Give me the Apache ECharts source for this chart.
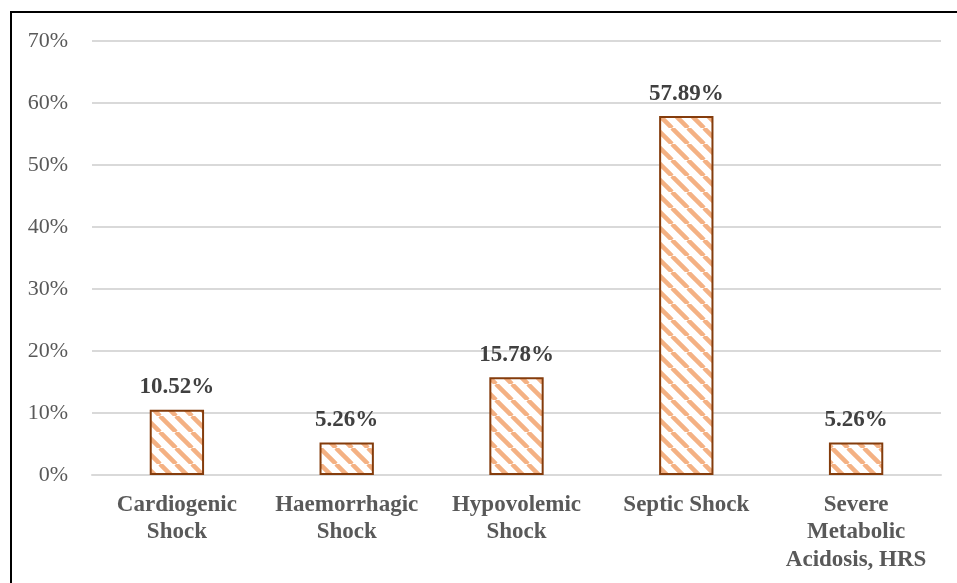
<!DOCTYPE html>
<html>
<head>
<meta charset="utf-8">
<script src="https://cdn.jsdelivr.net/npm/echarts@6/dist/echarts.min.js"></script>
<style>
  html, body { margin: 0; padding: 0; background: #fff; }
  #chart { width: 957px; height: 583px; }
</style>
</head>
<body>
<div id="chart"></div>
<script>
// Shock types and share of cases (%)
const categories = [
  'Cardiogenic\nShock',
  'Haemorrhagic\nShock',
  'Hypovolemic\nShock',
  'Septic Shock',
  'Severe\nMetabolic\nAcidosis, HRS'
];
const shares = [10.52, 5.26, 15.78, 57.89, 5.26];
const yTicks = { min: 0, max: 70, interval: 10 };

// Diagonal hatch fill: light orange stripes running top-left to bottom-right
function makeHatch() {
  const s = 16;
  const c = document.createElement('canvas');
  c.width = s; c.height = s;
  const g = c.getContext('2d');
  g.fillStyle = '#ffffff';
  g.fillRect(0, 0, s, s);
  g.strokeStyle = '#F4B183';
  g.lineWidth = 4.5;
  for (const o of [-s, 0, s]) {
    g.beginPath();
    g.moveTo(o, 0);
    g.lineTo(o + s, s);
    g.stroke();
  }
  return c;
}

const chart = echarts.init(document.getElementById('chart'), null, { renderer: 'canvas' });
const serif = '"Liberation Serif", "Times New Roman", serif';

chart.setOption({
  animation: false,
  backgroundColor: '#ffffff',
  graphic: [{
    type: 'rect',
    shape: { x: 11, y: 12, width: 1200, height: 1200 },
    style: { fill: 'none', stroke: '#000000', lineWidth: 2 },
    silent: true
  }],
  grid: { left: 92, right: 16, top: 41, bottom: 108, containLabel: false },
  xAxis: {
    type: 'category',
    data: categories,
    axisLine: { show: true, lineStyle: { color: '#D9D9D9', width: 2 } },
    axisTick: { show: false },
    axisLabel: {
      interval: 0,
      margin: 16,
      color: '#595959',
      fontFamily: serif,
      fontWeight: 'bold',
      fontSize: 23,
      lineHeight: 27.5
    }
  },
  yAxis: {
    type: 'value',
    min: yTicks.min,
    max: yTicks.max,
    interval: yTicks.interval,
    axisLine: { show: false },
    axisTick: { show: false },
    splitLine: { lineStyle: { color: '#D9D9D9', width: 2 } },
    axisLabel: {
      margin: 24,
      color: '#595959',
      fontFamily: serif,
      fontSize: 22,
      formatter: v => v + '%'
    }
  },
  series: [{
    type: 'bar',
    data: shares,
    barWidth: '32%',
    itemStyle: {
      color: { image: makeHatch(), repeat: 'repeat' },
      borderColor: '#843C0C',
      borderWidth: 2
    },
    label: {
      show: true,
      position: 'top',
      distance: 11,
      color: '#404040',
      fontFamily: serif,
      fontWeight: 'bold',
      fontSize: 23,
      formatter: p => p.value.toFixed(2) + '%'
    }
  }]
});
</script>
</body>
</html>
